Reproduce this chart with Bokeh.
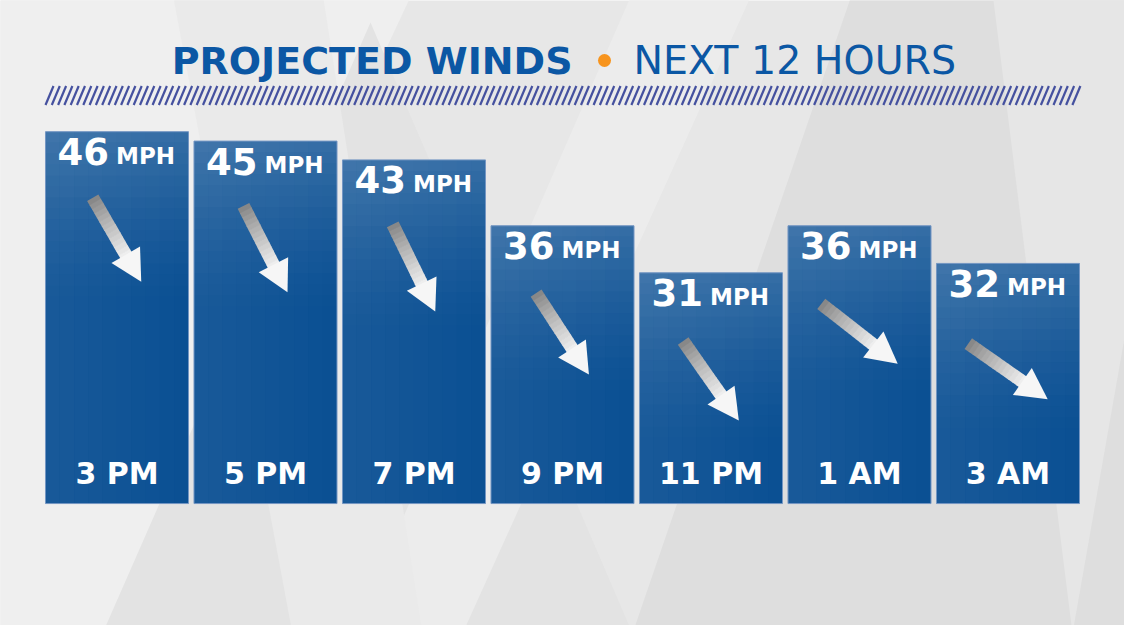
import numpy as np
from bokeh.plotting import figure
from bokeh.models import Range1d, ColumnDataSource
from bokeh.core.properties import value
from bokeh.embed import file_html
from bokeh.resources import INLINE

# ---------------- data ----------------
times = ["3 PM", "5 PM", "7 PM", "9 PM", "11 PM", "1 AM", "3 AM"]
speeds = [46, 45, 43, 36, 31, 36, 32]
dir_from = [330, 333, 334, 327, 325, 308, 305]   # wind coming FROM (deg)
unit = "MPH"
title_main = "PROJECTED WINDS"
title_sub = "NEXT 12 HOURS"

# ---------------- layout ----------------
W, H = 1124, 625
X0, X1 = -0.7845, 6.7845
Y0, Y1 = -6.48, 59.94
BAR_BOTTOM = 6.48
BAR_W = 0.963
sx = W / (X1 - X0)
sy = H / (Y1 - Y0)

FONT = value("DejaVu Sans")
BLUE = "#0a4f93"
TITLE_BLUE = "#0b57a4"

p = figure(width=W, height=H, x_range=Range1d(X0, X1), y_range=Range1d(Y0, Y1),
           x_axis_type=None, y_axis_type=None, output_backend="svg",
           toolbar_location=None, min_border=0)
p.grid.visible = False
p.outline_line_color = None
p.background_fill_color = "#e7e7e7"
p.border_fill_color = "#e7e7e7"
p.extra_x_ranges = {"px": Range1d(8, 1132)}
p.extra_y_ranges = {"px": Range1d(633, 8)}
PX = dict(x_range_name="px", y_range_name="px")

# ---------------- background shapes ----------------
bg_shapes = [
    ([0, 420, 120, 0], [0, 0, 641, 641], "#efefef"),
    ([378, 640, 700, 110], [30, 641, 641, 641], "#e3e3e3"),
    ([640, 760, 470, 360], [0, 0, 641, 641], "#ececec"),
    ([860, 1140, 1140, 640], [0, 0, 641, 641], "#dedede"),
    ([1000, 1140, 1140, 1080], [0, 0, 300, 641], "#e6e6e6"),
    ([180, 330, 430, 300], [0, 0, 641, 641], "#eaeaea"),
]
p.patches(xs=[s[0] for s in bg_shapes], ys=[s[1] for s in bg_shapes],
          fill_color=[s[2] for s in bg_shapes], line_color=None, **PX)

# ---------------- title ----------------
p.text(x=[580], y=[68], text=[title_main], text_font=FONT, text_font_style="bold",
       text_font_size="38px", text_color=TITLE_BLUE, text_align="right",
       text_baseline="alphabetic", **PX)
p.scatter(x=[612], y=[68], size=13, fill_color="#f7941d", line_color=None, **PX)
p.text(x=[641], y=[67], text=[title_sub], text_font=FONT, text_font_style="normal",
       text_font_size="39.5px", text_color=TITLE_BLUE, text_align="left",
       text_baseline="alphabetic", **PX)

# hatched band
hx = np.arange(53, 1080, 6.3)
p.segment(x0=hx, y0=np.full(len(hx), 112.5), x1=hx + 8, y1=np.full(len(hx), 93.5),
          line_color="#45519f", line_width=2.2, **PX)

# ---------------- bars ----------------
idx = np.arange(len(times))
spd = np.array(speeds, dtype=float)

p.vbar(x=idx, top=spd, bottom=BAR_BOTTOM, width=BAR_W, fill_color=BLUE, line_color=None)

# top-light gradient overlay
K = 16
step = 11 / sy
g = dict(left=[], right=[], top=[], bottom=[], alpha=[])
for i, s in enumerate(spd):
    for k in range(K):
        t = s - k * step
        b = max(s - (k + 1) * step, BAR_BOTTOM)
        if t <= BAR_BOTTOM:
            break
        g["left"].append(i - BAR_W / 2)
        g["right"].append(i + BAR_W / 2)
        g["top"].append(t)
        g["bottom"].append(b)
        g["alpha"].append(0.17 * (1 - k / K) ** 1.5)
p.quad(left="left", right="right", top="top", bottom="bottom", fill_color="white",
       fill_alpha="alpha", line_color=None, source=ColumnDataSource(g))

# left-light gradient overlay
J = 10
g2 = dict(left=[], right=[], top=[], bottom=[], alpha=[])
for i, s in enumerate(spd):
    for j in range(J):
        l = i - BAR_W / 2 + j * BAR_W / J
        g2["left"].append(l)
        g2["right"].append(l + BAR_W / J)
        g2["top"].append(s)
        g2["bottom"].append(BAR_BOTTOM)
        g2["alpha"].append(0.06 * (1 - j / J))
p.quad(left="left", right="right", top="top", bottom="bottom", fill_color="white",
       fill_alpha="alpha", line_color=None, source=ColumnDataSource(g2))

# bar outline
p.vbar(x=idx, top=spd, bottom=BAR_BOTTOM, width=BAR_W, fill_color=None,
       line_color="#7496c3", line_width=1)

# ---------------- value labels ----------------
p.text(x=idx - 8 / sx, y=spd - 20 / sy, text=[str(s) for s in speeds], text_font=FONT,
       text_font_style="bold", text_font_size="37px", text_color="white",
       text_align="right", text_baseline="alphabetic")
p.text(x=idx - 1 / sx, y=spd - 24 / sy, text=[unit] * len(speeds), text_font=FONT,
       text_font_style="bold", text_font_size="23px", text_color="white",
       text_align="left", text_baseline="alphabetic")

# time labels
p.text(x=idx, y=np.full(len(idx), BAR_BOTTOM + 30 / sy), text=times, text_font=FONT,
       text_font_style="bold", text_font_size="30px", text_color="white",
       text_align="center", text_baseline="alphabetic")

# ---------------- wind arrows ----------------
L, HL, HW, SW = 97.0, 31.0, 16.5, 6.5
NSEG = 14
xs_sh, ys_sh, cols_sh = [], [], []
xs_hd, ys_hd = [], []
for i, (s, d) in enumerate(zip(spd, dir_from)):
    cx, cy = i, s - 108 / sy
    b = np.deg2rad((d + 180) % 360)
    u = np.array([np.sin(b), -np.cos(b)])   # screen (right, down)
    n = np.array([-u[1], u[0]])

    def pt(t, w):
        v = u * t + n * w
        return cx + v[0] / sx, cy - v[1] / sy

    t0, t1 = -L / 2, L / 2 - HL + 2
    ts = np.linspace(t0, t1, NSEG + 1)
    for k in range(NSEG):
        a, c = ts[k], ts[k + 1] + 0.6
        pts = [pt(a, -SW), pt(c, -SW), pt(c, SW), pt(a, SW)]
        xs_sh.append([q[0] for q in pts])
        ys_sh.append([q[1] for q in pts])
        gv = int(0x88 + (0xee - 0x88) * (k / (NSEG - 1)) ** 0.9)
        cols_sh.append("#%02x%02x%02x" % (gv, gv, gv))
    hb = L / 2 - HL
    pts = [pt(hb, -HW), pt(L / 2, 0), pt(hb, HW)]
    xs_hd.append([q[0] for q in pts])
    ys_hd.append([q[1] for q in pts])

p.patches(xs=xs_sh, ys=ys_sh, fill_color=cols_sh, line_color=None)
p.patches(xs=xs_hd, ys=ys_hd, fill_color="#f6f6f6", line_color=None)

open("out.html", "w").write(file_html(p, INLINE))
